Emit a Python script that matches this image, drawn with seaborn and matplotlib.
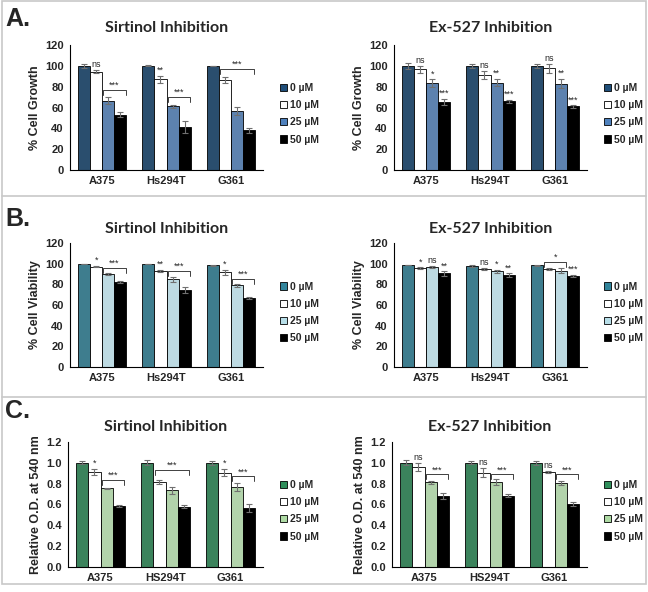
import matplotlib
matplotlib.use("Agg")
from matplotlib import pyplot as plt
from matplotlib.patches import Patch, Rectangle
from matplotlib.lines import Line2D
import seaborn as sns
import pandas as pd
import numpy as np

# categories
cells_ab = ["A375", "Hs294T", "G361"]
cells_c = ["A375", "HS294T", "G361"]
doses = ["0 µM", "10 µM", "25 µM", "50 µM"]

# A. % cell growth (rows = cell line, cols = dose)
growth_sirtinol = [[100, 94.5, 66.5, 53], [100, 87, 61, 41.5], [100, 86.5, 56.5, 38]]
growth_sirtinol_err = [[2, 1.5, 3.5, 2.5], [0.5, 3.5, 1.5, 5.5], [0, 2.5, 4, 2]]
growth_ex527 = [[100, 96.5, 83.5, 65.5], [100, 91.5, 84, 66], [100, 97.5, 83, 61]]
growth_ex527_err = [[3, 3, 3.5, 3], [2, 4, 3.5, 1.5], [2, 4.5, 4.5, 1]]

# B. % cell viability
viab_sirtinol = [[99.5, 97, 90, 82.5], [99.5, 93, 85, 74.5], [98.5, 91.5, 79, 66.5]]
viab_sirtinol_err = [[0, 0.7, 1.2, 1], [0, 1, 2.5, 2.5], [0.5, 2.5, 1.5, 1]]
viab_ex527 = [[99, 95.5, 96.5, 90.5], [97.5, 95, 92.5, 89], [98.5, 94.5, 93, 88]]
viab_ex527_err = [[0, 1, 1, 2], [1, 1, 1.5, 1.5], [0.5, 1, 2.5, 1]]

# C. relative O.D. at 540 nm
od_sirtinol = [[1.0, 0.915, 0.755, 0.585], [1.0, 0.82, 0.735, 0.58], [1.0, 0.905, 0.765, 0.565]]
od_sirtinol_err = [[0.015, 0.03, 0.005, 0.01], [0.025, 0.02, 0.03, 0.015], [0.02, 0.035, 0.04, 0.04]]
od_ex527 = [[1.0, 0.96, 0.815, 0.68], [1.0, 0.905, 0.815, 0.685], [1.0, 0.915, 0.805, 0.605]]
od_ex527_err = [[0.025, 0.035, 0.015, 0.03], [0.015, 0.045, 0.03, 0.015], [0.02, 0.01, 0.02, 0.02]]

# significance marks: (cell, dose, text) and brackets: (cell, from dose, to dose, y, text)
growth_sirtinol_marks = [(0, 1, "ns"), (1, 1, "**")]
growth_sirtinol_brackets = [(0, 2, 3, 77, "***"), (1, 2, 3, 70, "***"), (2, 1, 3, 97, "***")]
growth_ex527_marks = [(0, 1, "ns"), (0, 2, "*"), (0, 3, "***"), (1, 1, "ns"), (1, 2, "**"),
                      (1, 3, "***"), (2, 1, "ns"), (2, 2, "**"), (2, 3, "***")]
growth_ex527_brackets = []
viab_sirtinol_marks = [(0, 1, "*"), (1, 1, "**"), (2, 1, "*")]
viab_sirtinol_brackets = [(0, 2, 3, 96, "***"), (1, 2, 3, 93, "***"), (2, 2, 3, 85, "***")]
viab_ex527_marks = [(0, 1, "*"), (0, 2, "ns"), (0, 3, "**"), (1, 1, "ns"), (1, 2, "*"),
                    (1, 3, "**"), (2, 3, "***")]
viab_ex527_brackets = [(2, 1, 2, 102, "*")]
od_sirtinol_marks = [(0, 1, "*"), (2, 1, "*")]
od_sirtinol_brackets = [(0, 2, 3, 0.84, "***"), (1, 1, 3, 0.93, "***"), (2, 2, 3, 0.87, "***")]
od_ex527_marks = [(0, 1, "ns"), (1, 1, "ns"), (2, 1, "ns")]
od_ex527_brackets = [(0, 2, 3, 0.89, "***"), (1, 2, 3, 0.89, "***"), (2, 2, 3, 0.89, "***")]

blue_colors = ["#1f4e79", "#ffffff", "#4f81bd", "#000000"]
teal_colors = ["#31849b", "#ffffff", "#b7dee8", "#000000"]
green_colors = ["#2f8f5b", "#ffffff", "#aedaa4", "#000000"]

W, H = 648, 592

sns.set_style("white")
plt.rcParams["font.family"] = ["Liberation Sans", "DejaVu Sans"]


def px_axes(fig, x0, y0, x1, y1):
    return fig.add_axes([x0 / W, 1 - y1 / H, (x1 - x0) / W, (y1 - y0) / H])


# one grouped bar panel with error bars, marks and legend
def draw_panel(ax, cells, values, errs, colors, title, ylabel, ymax, step,
               marks, brackets, fmt, title_pad, legend_y):
    rows = []
    for i, cell in enumerate(cells):
        for j, dose in enumerate(doses):
            rows.append({"cell": cell, "dose": dose, "value": values[i][j], "err": errs[i][j]})
    df = pd.DataFrame(rows)

    sns.barplot(data=df, x="cell", y="value", hue="dose", palette=colors, width=0.75, gap=0,
                edgecolor="black", linewidth=0.6, errorbar=None, legend=False, ax=ax)

    xs = np.zeros((len(cells), len(doses)))
    for j, cont in enumerate(ax.containers):
        for i, bar in enumerate(cont):
            xs[i, j] = bar.get_x() + bar.get_width() / 2
    bw = ax.containers[0][0].get_width()

    ax.errorbar(xs.ravel(), df["value"], yerr=df["err"], fmt="none", ecolor="#707070",
                elinewidth=0.8, capsize=2, capthick=0.8, zorder=5)

    for i, j, txt in marks:
        ax.text(xs[i, j], values[i][j] + errs[i][j] + ymax * 0.008, txt,
                ha="center", va="bottom", fontsize=6.5)

    d = ymax * 0.04
    for i, a, b, y, txt in brackets:
        x0 = xs[i, a] - bw / 2 + 0.02
        x1 = xs[i, b] + bw / 2 - 0.01
        ax.plot([x0, x0, x1, x1], [y - d, y, y, y - d], color="#404040", lw=0.7)
        ax.text((x0 + x1) / 2, y, txt, ha="center", va="bottom", fontsize=6.5)

    ax.set_xlim(-0.5, 2.5)
    ax.set_ylim(0, ymax)
    ticks = np.arange(0, ymax + step / 2, step)
    ax.set_yticks(ticks)
    ax.set_yticklabels([fmt % t for t in ticks])
    ax.set_xticks([-0.5, 0.5, 1.5, 2.5], minor=True)
    ax.tick_params(axis="x", which="major", length=0, pad=4)
    ax.tick_params(axis="x", which="minor", length=3, width=0.8, direction="out")
    ax.tick_params(axis="y", length=2.5, width=0.8, direction="out", pad=2)
    for lab in ax.get_xticklabels() + ax.get_yticklabels():
        lab.set_fontsize(8)
        lab.set_fontweight("bold")
    ax.set_xlabel("")
    ax.set_ylabel(ylabel, fontsize=9, fontweight="bold", labelpad=3)
    ax.set_title(title, fontfamily=["Lato", "DejaVu Sans"], fontweight="bold",
                 fontsize=11.5, pad=title_pad)
    sns.despine(ax=ax)
    for s in ["left", "bottom"]:
        ax.spines[s].set_color("black")
        ax.spines[s].set_linewidth(0.8)

    handles = [Patch(facecolor=c, edgecolor="black", linewidth=0.6, label=dz)
               for c, dz in zip(colors, doses)]
    ax.legend(handles=handles, loc="center left", bbox_to_anchor=(1.065, legend_y),
              frameon=False, handlelength=0.7, handleheight=0.7, handletextpad=0.25,
              labelspacing=0.7, borderaxespad=0, prop={"weight": "bold", "size": 7.5})


fig = plt.figure(figsize=(W / 100, H / 100), dpi=100)

axA1 = px_axes(fig, 70, 45, 263, 170)
axA2 = px_axes(fig, 394, 45, 587, 170)
axB1 = px_axes(fig, 70, 243, 263, 367)
axB2 = px_axes(fig, 394, 243, 587, 367)
axC1 = px_axes(fig, 68, 442, 263, 567)
axC2 = px_axes(fig, 392, 442, 587, 567)

draw_panel(axA1, cells_ab, growth_sirtinol, growth_sirtinol_err, blue_colors, "Sirtinol Inhibition",
           "% Cell Growth", 120, 20, growth_sirtinol_marks, growth_sirtinol_brackets, "%d", 9, 0.45)
draw_panel(axA2, cells_ab, growth_ex527, growth_ex527_err, blue_colors, "Ex-527 Inhibition",
           "% Cell Growth", 120, 20, growth_ex527_marks, growth_ex527_brackets, "%d", 9, 0.45)
draw_panel(axB1, cells_ab, viab_sirtinol, viab_sirtinol_err, teal_colors, "Sirtinol Inhibition",
           "% Cell Viability", 120, 20, viab_sirtinol_marks, viab_sirtinol_brackets, "%d", 7, 0.44)
draw_panel(axB2, cells_ab, viab_ex527, viab_ex527_err, teal_colors, "Ex-527 Inhibition",
           "% Cell Viability", 120, 20, viab_ex527_marks, viab_ex527_brackets, "%d", 7, 0.44)
draw_panel(axC1, cells_c, od_sirtinol, od_sirtinol_err, green_colors, "Sirtinol Inhibition",
           "Relative O.D. at 540 nm", 1.2, 0.2, od_sirtinol_marks, od_sirtinol_brackets, "%.1f", 8, 0.45)
draw_panel(axC2, cells_c, od_ex527, od_ex527_err, green_colors, "Ex-527 Inhibition",
           "Relative O.D. at 540 nm", 1.2, 0.2, od_ex527_marks, od_ex527_brackets, "%.1f", 8, 0.45)

# panel letters
for letter, ytop in [("A.", 7), ("B.", 207), ("C.", 399)]:
    fig.text(5 / W, 1 - ytop / H, letter, fontsize=18, fontweight="bold", va="top", ha="left")

# frame and row separators
fig.add_artist(Rectangle((2 / W, 1 - 584 / H), 644 / W, 583 / H, transform=fig.transFigure,
                         fill=False, edgecolor="#c8c8c8", lw=1.2))
for yy in [196, 397]:
    fig.add_artist(Line2D([2 / W, 646 / W], [1 - yy / H, 1 - yy / H], transform=fig.transFigure,
                          color="#c8c8c8", lw=1.2))

fig.savefig("out.png", dpi=100)
